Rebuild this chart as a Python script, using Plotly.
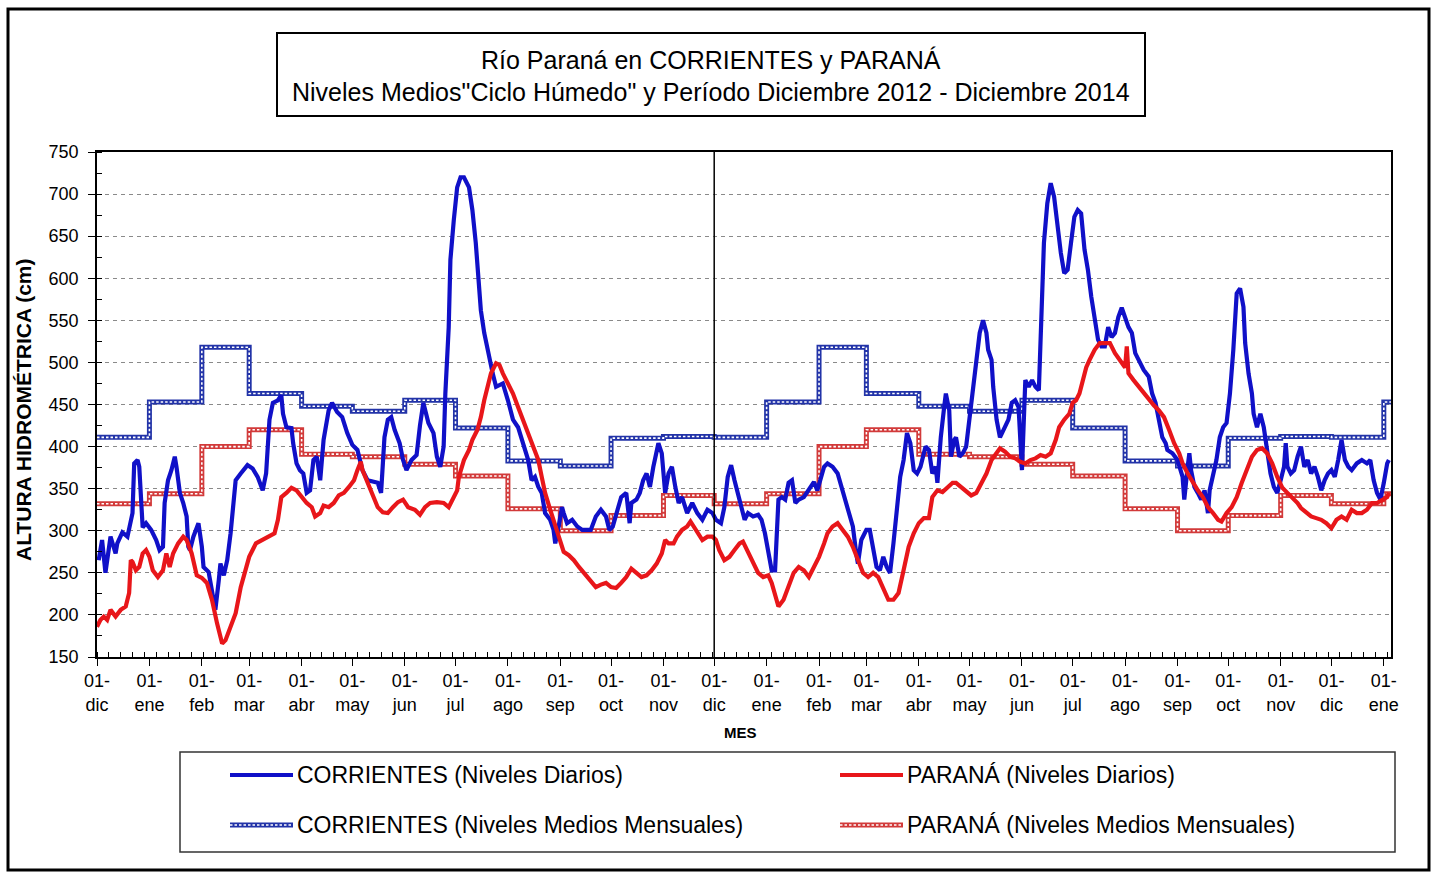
import plotly.graph_objects as go
import pandas as pd

# ---------------- DATA ----------------
inicio = "2012-12-01"
fin_eje = "2015-01-05 06:00"
meses_abrev = ["dic", "ene", "feb", "mar", "abr", "may", "jun", "jul", "ago", "sep", "oct", "nov"]

# Niveles medios mensuales "Ciclo Húmedo" (dic ... nov)
corr_ciclo = [411, 453, 518, 463, 448, 442, 455, 422, 383, 377, 410, 412]
par_ciclo = [332, 344, 400, 420, 391, 388, 379, 365, 326, 300, 318, 342]

# CORRIENTES niveles diarios: días desde 01-dic-2012, altura (cm)
dias_corr = [1, 3, 5, 8, 11, 12, 15, 18, 21, 22, 24, 25, 27, 29, 32, 35, 37, 39, 40, 42, 44, 46, 47, 49, 51, 53, 54, 55, 57, 60,
             62, 63, 66, 68, 70, 72, 73, 75, 77, 79, 82, 85, 89, 92, 95, 98, 100, 102, 104, 107, 109, 110, 112, 115, 116, 118, 120, 122, 124, 126,
             128, 130, 132, 134, 137, 139, 142, 145, 148, 151, 154, 156, 157, 160, 163, 166, 168, 170, 172, 174, 176, 179, 181, 183, 186, 189, 191, 193, 196, 199,
             201, 203, 205, 206, 208, 209, 211, 213, 215, 217, 220, 222, 224, 225, 227, 229, 232, 234, 236, 240, 243, 246, 249, 252, 255, 257, 259, 261, 263, 265,
             268, 270, 271, 273, 275, 276, 278, 281, 284, 287, 290, 292, 295, 298, 301, 303, 305, 308, 310, 313, 314, 315, 316, 319, 321, 323, 325, 327, 329, 331,
             332, 334, 336, 338, 340, 342, 344, 346, 349, 352, 355, 358, 361, 364, 366, 369, 371, 373, 375, 377, 379, 381, 383, 385, 388, 391, 393, 395, 397, 399,
             401, 403, 405, 407, 409, 411, 413, 415, 418, 421, 424, 426, 428, 430, 432, 435, 438, 441, 443, 445, 447, 449, 450, 452, 455, 457, 459, 461, 463, 465,
             467, 469, 471, 473, 475, 477, 479, 481, 483, 485, 487, 490, 492, 494, 496, 497, 499, 501, 502, 504, 505, 507, 508, 510, 512, 514, 516, 518, 520, 522,
             524, 526, 527, 529, 530, 532, 534, 536, 539, 541, 543, 545, 546, 547, 549, 551, 553, 555, 557, 558, 559, 560, 562, 564, 566, 568, 570, 572, 574, 576,
             578, 580, 582, 584, 586, 588, 590, 592, 594, 596, 598, 600, 602, 604, 606, 608, 610, 612, 614, 616, 619, 622, 624, 626, 628, 630, 632, 633, 636, 639,
             642, 643, 645, 646, 647, 649, 651, 653, 655, 657, 658, 660, 662, 664, 666, 668, 670, 672, 673, 674, 676, 678, 679, 681, 683, 684, 686, 688, 690, 692,
             694, 696, 698, 700, 702, 703, 704, 706, 708, 710, 712, 714, 716, 718, 720, 722, 724, 726, 728, 730, 732, 734, 736, 738, 740, 742, 745, 748, 751, 753,
             755, 757, 759, 761, 763, 764]
corr_diario = [265, 289, 250, 293, 273, 285, 298, 293, 321, 380, 384, 376, 304, 309, 301, 289, 277, 281, 333, 360, 372, 388, 376, 345, 333, 317, 281, 277, 293, 309,
               281, 257, 251, 226, 206, 241, 261, 247, 265, 297, 360, 368, 378, 374, 364, 348, 368, 432, 452, 455, 461, 439, 423, 422, 404, 380, 372, 368, 345, 348,
               384, 388, 360, 408, 443, 452, 441, 435, 416, 402, 396, 380, 372, 360, 358, 357, 345, 411, 432, 435, 420, 404, 384, 372, 384, 390, 425, 452, 428, 416,
               388, 376, 400, 463, 542, 622, 669, 708, 720, 720, 708, 681, 642, 610, 562, 535, 503, 487, 471, 475, 455, 432, 423, 404, 384, 360, 364, 352, 345, 321,
               313, 301, 285, 305, 328, 321, 309, 313, 305, 301, 301, 301, 317, 325, 317, 301, 305, 328, 340, 345, 325, 309, 333, 337, 345, 360, 368, 352, 376, 392,
               404, 392, 345, 368, 376, 352, 333, 340, 321, 333, 321, 313, 325, 321, 313, 309, 328, 364, 378, 360, 345, 328, 313, 321, 317, 319, 313, 297, 273, 253,
               253, 337, 340, 337, 357, 360, 333, 337, 340, 348, 358, 348, 364, 376, 380, 376, 368, 348, 333, 321, 305, 273, 261, 289, 301, 301, 277, 257, 253, 269,
               257, 250, 285, 325, 364, 384, 416, 404, 372, 368, 376, 400, 396, 368, 376, 357, 411, 447, 463, 443, 388, 408, 411, 388, 392, 400, 432, 471, 503, 535,
               550, 535, 515, 503, 471, 432, 411, 420, 432, 452, 455, 447, 400, 372, 479, 471, 479, 471, 467, 523, 582, 642, 689, 713, 697, 661, 630, 606, 610, 642,
               673, 681, 677, 634, 610, 578, 554, 527, 519, 519, 542, 530, 535, 554, 565, 554, 542, 535, 511, 503, 491, 483, 463, 452, 432, 411, 404, 396, 392, 384,
               364, 337, 376, 392, 372, 352, 345, 337, 348, 321, 348, 364, 384, 411, 423, 428, 463, 515, 554, 582, 588, 566, 523, 487, 463, 439, 423, 439, 423, 392,
               368, 352, 345, 360, 376, 404, 376, 368, 372, 388, 400, 376, 384, 368, 376, 364, 348, 360, 368, 372, 364, 384, 408, 384, 376, 372, 380, 384, 380, 384,
               360, 345, 337, 357, 380, 384]

# PARANÁ niveles diarios: días desde 01-dic-2012, altura (cm)
dias_par = [0, 2, 4, 6, 8, 11, 14, 17, 19, 20, 21, 23, 25, 27, 29, 31, 33, 36, 39, 41, 43, 45, 48, 51, 53, 56, 59, 62, 65, 68,
            71, 74, 76, 79, 82, 85, 88, 90, 94, 98, 102, 105, 107, 109, 112, 115, 118, 121, 124, 127, 129, 132, 134, 137, 140, 143, 146, 149, 152, 154,
            156, 157, 160, 163, 166, 169, 172, 175, 178, 181, 184, 188, 191, 194, 197, 201, 205, 208, 211, 213, 214, 217, 220, 222, 225, 227, 229, 231, 233, 236,
            238, 240, 243, 246, 249, 252, 255, 258, 261, 263, 265, 268, 271, 274, 276, 279, 282, 285, 288, 292, 295, 298, 301, 304, 307, 310, 313, 316, 319, 322,
            325, 328, 331, 334, 336, 338, 341, 343, 346, 349, 351, 353, 356, 358, 361, 364, 366, 368, 371, 374, 377, 380, 382, 385, 388, 391, 394, 397, 399, 401,
            403, 406, 409, 412, 415, 418, 421, 424, 427, 430, 432, 435, 438, 441, 444, 447, 450, 453, 456, 459, 462, 465, 468, 471, 474, 477, 480, 483, 486, 489,
            492, 494, 497, 500, 503, 506, 508, 511, 514, 517, 520, 523, 526, 529, 532, 534, 537, 540, 543, 546, 549, 552, 555, 558, 561, 564, 567, 569, 572, 575,
            577, 579, 581, 583, 585, 587, 590, 593, 596, 599, 602, 605, 608, 609, 610, 613, 616, 619, 622, 625, 628, 631, 634, 637, 640, 642, 645, 648, 651, 654,
            657, 660, 663, 665, 668, 671, 674, 677, 680, 683, 686, 689, 692, 695, 698, 701, 704, 707, 710, 712, 715, 718, 721, 724, 727, 730, 733, 736, 739, 742,
            745, 748, 751, 754, 757, 760, 763, 764]
par_diario = [186, 194, 198, 194, 206, 198, 206, 210, 226, 265, 263, 253, 257, 273, 277, 269, 253, 245, 253, 273, 257, 273, 285, 293, 289, 273, 247, 244, 238, 218,
              190, 166, 170, 186, 202, 233, 257, 269, 285, 289, 293, 297, 313, 340, 345, 351, 348, 340, 333, 328, 317, 321, 330, 328, 333, 342, 345, 352, 360, 372,
              382, 372, 357, 345, 328, 322, 321, 328, 334, 337, 328, 325, 319, 328, 333, 334, 333, 328, 340, 348, 364, 384, 396, 408, 420, 435, 455, 471, 487, 499,
              497, 487, 475, 463, 447, 432, 416, 400, 384, 364, 345, 325, 305, 285, 275, 271, 265, 257, 250, 241, 233, 236, 238, 233, 232, 238, 245, 255, 250, 245,
              247, 253, 261, 273, 289, 285, 285, 293, 301, 305, 311, 305, 297, 289, 293, 293, 289, 277, 265, 269, 277, 285, 287, 275, 261, 250, 245, 247, 238, 222,
              210, 218, 233, 250, 257, 253, 245, 257, 269, 285, 297, 305, 309, 301, 293, 281, 265, 250, 245, 250, 245, 230, 218, 218, 226, 253, 281, 297, 309, 315,
              315, 340, 348, 346, 352, 357, 357, 352, 346, 342, 345, 357, 368, 384, 392, 398, 394, 388, 386, 382, 380, 384, 386, 390, 388, 392, 408, 423, 432, 439,
              452, 455, 463, 479, 494, 503, 515, 523, 523, 523, 511, 503, 494, 519, 487, 479, 471, 463, 455, 449, 443, 435, 420, 404, 392, 380, 368, 357, 348, 340,
              328, 321, 313, 311, 321, 328, 340, 357, 372, 388, 396, 398, 392, 380, 364, 351, 345, 339, 333, 327, 322, 317, 315, 313, 309, 303, 313, 317, 313, 325,
              321, 321, 325, 333, 333, 337, 340, 345]

titulo_1 = "Río Paraná en CORRIENTES y PARANÁ"
titulo_2 = "Niveles Medios\"Ciclo Húmedo\" y Período Diciembre 2012 - Diciembre 2014"
nombres = ["CORRIENTES (Niveles Diarios)", "PARANÁ (Niveles Diarios)",
           "CORRIENTES (Niveles Medios Mensuales)", "PARANÁ (Niveles Medios Mensuales)"]

# ---------------- BUILD ----------------
W, H = 1437, 872
L, R, T, B = 97, 46, 152, 215
AZUL, ROJO = "#1010C8", "#E8161A"
AZUL_M, ROJO_M = "#2233A8", "#D23A3A"
FONT = "Liberation Sans, Arial, sans-serif"


def px(x):
    return (x - L) / (W - L - R)


def py(y):
    return (H - B - y) / (H - T - B)


t0 = pd.Timestamp(inicio)
x_corr = t0 + pd.to_timedelta(dias_corr, unit="D")
x_par = t0 + pd.to_timedelta(dias_par, unit="D")

inicios_mes = pd.date_range(inicio, "2015-01-01", freq="MS")
x_mes = list(inicios_mes) + [pd.Timestamp(fin_eje)]
corr_mes = [corr_ciclo[i % 12] for i in range(len(inicios_mes))]
par_mes = [par_ciclo[i % 12] for i in range(len(inicios_mes))]
corr_mes += [corr_mes[-1]]
par_mes += [par_mes[-1]]

fig = go.Figure()

# monthly mean step lines ("oooo" double line look)
for yv, col in [(corr_mes, AZUL_M), (par_mes, ROJO_M)]:
    fig.add_trace(go.Scatter(x=x_mes, y=yv, mode="lines", line=dict(color=col, width=5, shape="hv"),
                             showlegend=False, hoverinfo="skip"))
    fig.add_trace(go.Scatter(x=x_mes, y=yv, mode="lines",
                             line=dict(color="white", width=1.6, shape="hv", dash="2.5px,2px"),
                             showlegend=False, hoverinfo="skip"))

fig.add_trace(go.Scatter(x=x_corr, y=corr_diario, mode="lines", line=dict(color=AZUL, width=4.2),
                         name=nombres[0], showlegend=False))
fig.add_trace(go.Scatter(x=x_par, y=par_diario, mode="lines", line=dict(color=ROJO, width=4.2),
                         name=nombres[1], showlegend=False))

tickvals = list(inicios_mes)
ticktext = ["01-<br>" + meses_abrev[i % 12] for i in range(len(inicios_mes))]

fig.update_layout(
    width=W, height=H, autosize=False,
    margin=dict(l=L, r=R, t=T, b=B, pad=0),
    paper_bgcolor="white", plot_bgcolor="white",
    font=dict(family=FONT, color="black"),
    showlegend=False,
    xaxis=dict(
        type="date", range=[inicio, fin_eje],
        tickmode="array", tickvals=tickvals, ticktext=ticktext,
        ticks="outside", ticklen=7, tickwidth=1.3, tickcolor="black",
        tickfont=dict(size=18, family=FONT, color="black"),
        showline=True, linecolor="black", linewidth=1.5, mirror=True,
        showgrid=False, zeroline=False,
        minor=dict(ticks="inside", ticklen=5, tickwidth=1, tickcolor="black",
                   dtick=7 * 86400000, tick0=inicio, showgrid=False),
    ),
    yaxis=dict(
        range=[150, 750], dtick=50, tick0=150,
        ticks="outside", ticklen=7, tickwidth=1.3, tickcolor="black",
        tickfont=dict(size=18, family=FONT, color="black"),
        ticklabelstandoff=6,
        showline=True, linecolor="black", linewidth=1.5, mirror=True,
        showgrid=True, gridcolor="#8a8a8a", gridwidth=1, griddash="4px,4px",
        zeroline=False,
        minor=dict(ticks="inside", ticklen=5, tickwidth=1, tickcolor="black", dtick=25, showgrid=False),
    ),
)

shapes = []
# separator between the two years
shapes.append(dict(type="line", xref="x", yref="paper", x0=inicios_mes[12], x1=inicios_mes[12], y0=0, y1=1,
                   line=dict(color="black", width=1.5)))
# outer frame
shapes.append(dict(type="rect", xref="paper", yref="paper", x0=px(8), x1=px(1429), y0=py(870), y1=py(9),
                   line=dict(color="black", width=3), layer="below"))
# title box
shapes.append(dict(type="rect", xref="paper", yref="paper", x0=px(277), x1=px(1145), y0=py(116), y1=py(33),
                   line=dict(color="black", width=2)))
# legend box
shapes.append(dict(type="rect", xref="paper", yref="paper", x0=px(180), x1=px(1395), y0=py(852), y1=py(752),
                   line=dict(color="#333333", width=1.5)))

annotations = [
    dict(text=titulo_1, x=px(711), y=py(60), xref="paper", yref="paper", showarrow=False,
         xanchor="center", yanchor="middle", font=dict(size=25, family=FONT, color="black")),
    dict(text=titulo_2, x=px(711), y=py(92), xref="paper", yref="paper", showarrow=False,
         xanchor="center", yanchor="middle", font=dict(size=25, family=FONT, color="black")),
    dict(text="<b>ALTURA HIDROMÉTRICA (cm)</b>", x=px(23), y=py(410), xref="paper", yref="paper",
         showarrow=False, textangle=-90, xanchor="center", yanchor="middle",
         font=dict(size=21, family=FONT, color="black")),
    dict(text="<b>MES</b>", x=px(740), y=py(732), xref="paper", yref="paper", showarrow=False,
         xanchor="center", yanchor="middle", font=dict(size=15, family=FONT, color="black")),
]

# custom legend
leg = [(230, 775, AZUL, False, nombres[0]), (840, 775, ROJO, False, nombres[1]),
       (230, 825, AZUL_M, True, nombres[2]), (840, 825, ROJO_M, True, nombres[3])]
for x0, yy, col, media, txt in leg:
    if media:
        shapes.append(dict(type="line", xref="paper", yref="paper", x0=px(x0), x1=px(x0 + 63), y0=py(yy), y1=py(yy),
                           line=dict(color=col, width=5)))
        shapes.append(dict(type="line", xref="paper", yref="paper", x0=px(x0), x1=px(x0 + 63), y0=py(yy), y1=py(yy),
                           line=dict(color="white", width=1.6, dash="2.5px,2px")))
    else:
        shapes.append(dict(type="line", xref="paper", yref="paper", x0=px(x0), x1=px(x0 + 63), y0=py(yy), y1=py(yy),
                           line=dict(color=col, width=4)))
    annotations.append(dict(text=txt, x=px(x0 + 65), y=py(yy), xref="paper", yref="paper", showarrow=False,
                            xanchor="left", yanchor="middle", font=dict(size=23, family=FONT, color="black")))

fig.update_layout(shapes=shapes, annotations=annotations)

fig.write_html("out.html", config={"displayModeBar": False},
               post_script="document.body.style.margin='0px';document.body.style.padding='0px';")
